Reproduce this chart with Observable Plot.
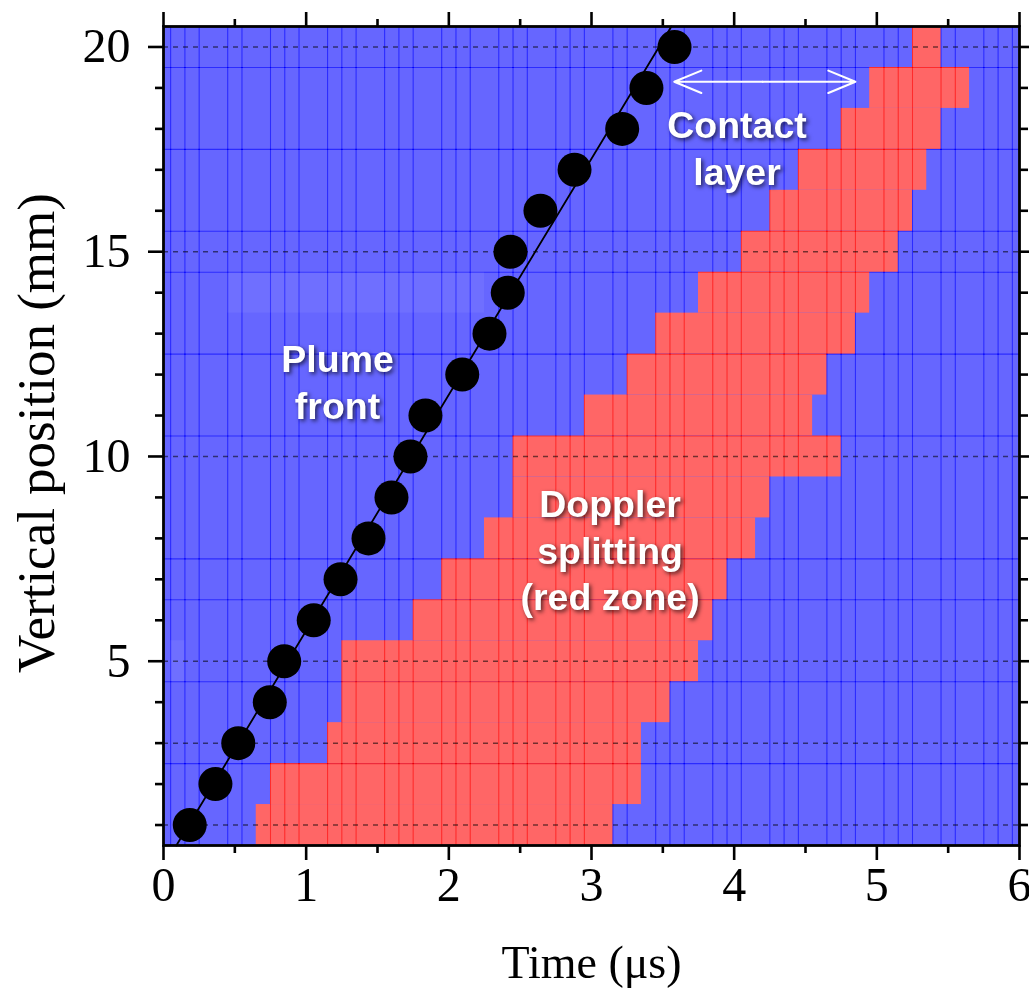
<!DOCTYPE html>
<html>
<head>
<meta charset="utf-8">
<script src="https://cdn.jsdelivr.net/npm/d3@7"></script>
<script src="https://cdn.jsdelivr.net/npm/@observablehq/plot@0.6"></script>
<style>
  html, body { margin: 0; padding: 0; background: white; }
  #chart g[font-weight="bold"] { filter: drop-shadow(2px 2.5px 2px rgba(0,0,0,0.65)); }
  #chart g[aria-label$="axis tick"] { stroke-width: 2.6px; }
</style>
</head>
<body>
<div id="chart"></div>
<script>
// ---- data ----
const xTicks = [0, 1, 2, 3, 4, 5, 6];
const xMinorTicks = [0.5, 1.5, 2.5, 3.5, 4.5, 5.5];
const yTicks = [5, 10, 15, 20];
const yMinorTicks = [1,2,3,4,6,7,8,9,11,12,13,14,16,17,18,19];

// visible cell-boundary grid lines
const gridX = [0.05,0.15,0.25,0.45,0.55,0.75,0.85,0.95,1.15,1.25,1.35,1.55,1.65,1.75,1.95,2.05,2.15,2.35,2.45,2.55,2.75,2.85,2.95,3.15,3.25,3.45,3.55,3.65,3.85,3.95,4.05,4.25,4.35,4.45,4.65,4.75,4.85,5.05,5.15,5.25,5.45,5.55,5.75,5.85,5.95];
const gridY = [2.5, 4.5, 6.5, 7.5, 10.5, 12.5, 14.5, 15.5, 17.5, 19.5];
const dashY = [1, 3, 5, 10, 15, 20];

// red zone (Doppler splitting) per row
const redRow   = [1,2,3,4,5,6,7,8,9,10,11,12,13,14,15,16,17,18,19,20];
const redStart = [0.65,0.75,1.15,1.25,1.25,1.75,1.95,2.25,2.45,2.45,2.95,3.25,3.45,3.75,4.05,4.25,4.45,4.75,4.95,5.25];
const redEnd   = [3.15,3.35,3.35,3.55,3.75,3.85,3.95,4.15,4.25,4.75,4.55,4.65,4.85,4.95,5.15,5.25,5.35,5.45,5.65,5.45];

// faint lighter artifacts
const lightX1 = [0.45, 0.05];
const lightX2 = [2.25, 0.15];
const lightY1 = [13.5, 4.5];
const lightY2 = [14.5, 5.5];

// plume front points
const frontY = [1,2,3,4,5,6,7,8,9,10,11,12,13,14,15,16,17,18,19,20];
const frontX = [0.184,0.364,0.524,0.745,0.846,1.053,1.241,1.437,1.598,1.731,1.836,2.094,2.285,2.413,2.432,2.642,2.881,3.215,3.385,3.582];

// linear fit of the front
const fitX = [0.09, 3.56];
const fitY = [0.5, 20.5];

// contact layer arrow
const arrowMid = 4.2;
const arrowEnds = [3.58, 4.85];
const arrowY = 19.15;

// annotations
const annText = ["Plume\nfront", "Contact\nlayer", "Doppler\nsplitting\n(red zone)"];
const annX = [1.22, 4.02, 3.13];
const annY = [11.85, 17.56, 7.75];

// ---- build tables ----
const red = redRow.map((r, i) => ({y1: r - 0.5, y2: r + 0.5, x1: redStart[i], x2: redEnd[i]}));
const light = lightX1.map((v, i) => ({x1: v, x2: lightX2[i], y1: lightY1[i], y2: lightY2[i]}));
const front = frontX.map((x, i) => ({x, y: frontY[i]}));
const fit = fitX.map((x, i) => ({x, y: fitY[i]}));
const arrows = arrowEnds.map(e => ({x1: arrowMid, x2: e, y: arrowY}));
const ann = annText.map((t, i) => ({t, x: annX[i], y: annY[i]}));

const serif = "Liberation Serif, Times New Roman, serif";
const sans = "Liberation Sans, Arial, sans-serif";

const chart = Plot.plot({
  width: 1029,
  height: 998,
  marginLeft: 163,
  marginRight: 10,
  marginTop: 26,
  marginBottom: 153,
  x: {domain: [0, 6]},
  y: {domain: [0.5, 20.5]},
  marks: [
    Plot.frame({fill: "#6666ff", stroke: null}),
    Plot.rect(red, {x1: "x1", x2: "x2", y1: "y1", y2: "y2", fill: "#ff6666"}),
    Plot.ruleX(gridX, {stroke: "#b8b8b8", strokeWidth: 1.1, mixBlendMode: "color-burn"}),
    Plot.ruleY(gridY, {stroke: "#b8b8b8", strokeWidth: 1.1, mixBlendMode: "color-burn"}),
    Plot.ruleY(dashY, {stroke: "black", strokeOpacity: 0.55, strokeWidth: 1.5, strokeDasharray: "5,5"}),
    Plot.rect(light, {x1: "x1", x2: "x2", y1: "y1", y2: "y2", fill: "white", fillOpacity: 0.06}),
    Plot.line(fit, {x: "x", y: "y", stroke: "black", strokeWidth: 1.8}),
    Plot.dot(front, {x: "x", y: "y", r: 17, fill: "black"}),
    Plot.arrow(arrows, {x1: "x1", x2: "x2", y1: "y", y2: "y", stroke: "white", strokeWidth: 2, headLength: 22, headAngle: 45}),
    Plot.text(ann, {x: "x", y: "y", text: "t", fill: "white", fontSize: 37.5, fontWeight: "bold", fontFamily: sans, lineHeight: 1.25, lineAnchor: "middle"}),
    Plot.frame({stroke: "black", strokeWidth: 2.8}),
    // axes
    Plot.axisX({anchor: "bottom", ticks: xTicks, tickSize: 15, tickPadding: 6, fontSize: 48, fontFamily: serif, fill: "black", label: null, tickFormat: d => String(d)}),
    Plot.axisX({anchor: "bottom", ticks: xMinorTicks, tickSize: 8, label: null, tickFormat: () => ""}),
    Plot.axisX({anchor: "top", ticks: xTicks, tickSize: 15, label: null, tickFormat: () => ""}),
    Plot.axisX({anchor: "top", ticks: xMinorTicks, tickSize: 8, label: null, tickFormat: () => ""}),
    Plot.axisY({anchor: "left", ticks: yTicks, tickSize: 15, tickPadding: 18, fontSize: 48, fontFamily: serif, fill: "black", label: null, tickFormat: d => String(d)}),
    Plot.axisY({anchor: "left", ticks: yMinorTicks, tickSize: 8, label: null, tickFormat: () => ""}),
    Plot.axisY({anchor: "right", ticks: yTicks, tickSize: 15, label: null, tickFormat: () => ""}),
    Plot.axisY({anchor: "right", ticks: yMinorTicks, tickSize: 8, label: null, tickFormat: () => ""}),
    Plot.text(["Time (μs)"], {frameAnchor: "bottom", dy: 132, lineAnchor: "bottom", fontSize: 46, fontFamily: serif, fill: "black"}),
    Plot.text(["Vertical position (mm)"], {frameAnchor: "left", dx: -126, dy: -3, rotate: -90, textAnchor: "middle", fontSize: 53, fontFamily: serif, fill: "black", lineAnchor: "middle"})
  ]
});
document.getElementById("chart").appendChild(chart);
</script>
</body>
</html>
